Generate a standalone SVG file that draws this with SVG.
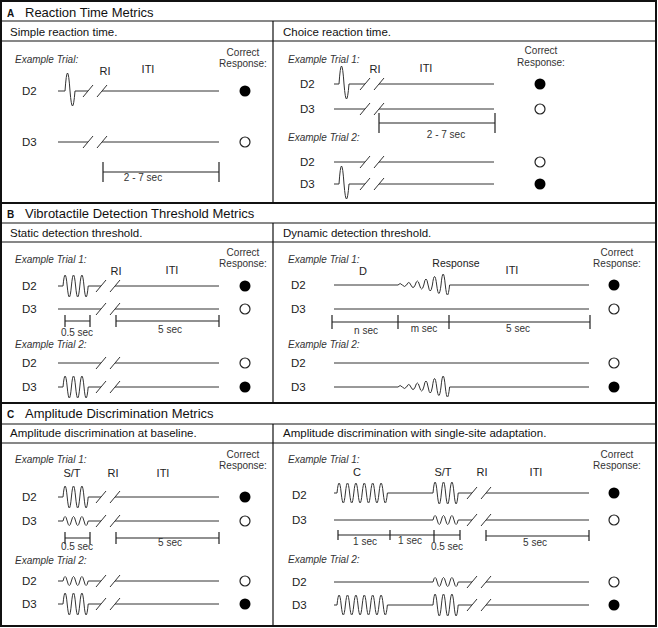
<svg xmlns="http://www.w3.org/2000/svg" xmlns:xlink="http://www.w3.org/1999/xlink" width="658" height="628" viewBox="0 0 658 628">
<style>
text{font-family:"Liberation Sans",Arial,sans-serif;fill:#111}
.h{font-size:13px}
.hl{font-size:10px;font-weight:bold}
.s{font-size:11.5px}
.ex{font-size:10px;font-style:italic;fill:#333}
.cr{font-size:10px;text-anchor:middle;fill:#333}
.d{font-size:11.5px;fill:#222}
.lb{font-size:11px;text-anchor:middle;fill:#222}
.sc{font-size:10px;text-anchor:middle;fill:#333}
.fr{fill:none;stroke:#111;stroke-width:2}
.fl{fill:none;stroke:#111;stroke-width:1.2}
.tr{fill:none;stroke:#333;stroke-width:1}
.bar{fill:none;stroke:#222;stroke-width:1.2}
.on{fill:#000}
.off{fill:#fff;stroke:#222;stroke-width:1.2}
</style>
<defs>
<path id="brk" class="tr" d="M-5,6 L5,-6 M9,6 L19,-6"/>
<path id="spk" class="tr" d="M0,0 q2.5,-36 5,0 q2.5,30 5,0"/>
<path id="vibL" class="tr" d="M0,0 q2.1,-22 4.2,0 t4.2,0 t4.2,0 t4.2,0 t4.2,0 t4.2,0"/>
<path id="vibS" class="tr" d="M0,0 q2.1,-9 4.2,0 t4.2,0 t4.2,0 t4.2,0 t4.2,0 t4.2,0"/>
<path id="vibC" class="tr" d="M0,0 q2.1,-20 4.2,0 t4.2,0 t4.2,0 t4.2,0 t4.2,0 t4.2,0 t4.2,0 t4.2,0 t4.2,0 t4.2,0 t4.2,0 t4.2,0"/>
<path id="dyn" class="tr" d="M0,0 q2.15,-3 4.3,0 q2.15,3 4.3,0 q2.15,-5 4.3,0 q2.15,5 4.3,0 q2.15,-8 4.3,0 q2.15,8 4.3,0 q2.15,-12 4.3,0 q2.15,12 4.3,0 q2.15,-17 4.3,0 q2.15,17 4.3,0 q2.15,-22 4.3,0 q2.15,20 4.3,0"/>
</defs>

<g id="frame">
<rect class="fr" x="1" y="1" width="655" height="625"/>
<path class="fr" d="M1,203 H656 M1,403 H656"/>
<path class="fl" d="M1,21 H656 M1,41 H656 M1,223 H656 M1,242 H656 M1,424 H656 M1,443 H656 M273,21 V203 M273,223 V403 M273,424 V626"/>
</g>

<g id="headers">
<text class="hl" x="7" y="17">A</text><text class="h" x="25" y="17">Reaction Time Metrics</text>
<text class="hl" x="7" y="218">B</text><text class="h" x="25" y="218">Vibrotactile Detection Threshold Metrics</text>
<text class="hl" x="7" y="418">C</text><text class="h" x="25" y="418">Amplitude Discrimination Metrics</text>
<text class="s" x="10" y="36">Simple reaction time.</text>
<text class="s" x="283" y="36">Choice reaction time.</text>
<text class="s" x="10" y="237">Static detection threshold.</text>
<text class="s" x="283" y="237">Dynamic detection threshold.</text>
<text class="s" x="10" y="437">Amplitude discrimination at baseline.</text>
<text class="s" x="283" y="437">Amplitude discrimination with single-site adaptation.</text>
</g>

<g id="panel-a-simple">
<text class="ex" x="15" y="63">Example Trial:</text>
<text class="cr" x="243" y="56">Correct</text><text class="cr" x="243" y="67">Response:</text>
<text class="lb" x="105" y="75">RI</text><text class="lb" x="148" y="73">ITI</text>
<text class="d" x="22" y="95">D2</text>
<path class="tr" d="M58,91 H65 M75,91 H88 M102,91 H219"/>
<use href="#spk" x="65" y="91"/><use href="#brk" x="88" y="91"/>
<circle class="on" cx="245" cy="91" r="5.5"/>
<text class="d" x="22" y="146">D3</text>
<path class="tr" d="M58,142 H88 M102,142 H219"/>
<use href="#brk" x="88" y="142"/>
<circle class="off" cx="245" cy="142" r="5"/>
<path class="bar" d="M103,172 H219 M103,162 V182 M219,162 V182"/>
<text class="sc" x="143" y="181">2 - 7 sec</text>
</g>

<g id="panel-a-choice">
<text class="ex" x="288" y="63">Example Trial 1:</text>
<text class="cr" x="541" y="54">Correct</text><text class="cr" x="541" y="66">Response:</text>
<text class="lb" x="375" y="73">RI</text><text class="lb" x="426" y="72">ITI</text>
<text class="d" x="300" y="88">D2</text>
<path class="tr" d="M334,84 H339 M349,84 H365 M379,84 H494"/>
<use href="#spk" x="339" y="84"/><use href="#brk" x="365" y="84"/>
<circle class="on" cx="540" cy="84" r="5.5"/>
<text class="d" x="300" y="113">D3</text>
<path class="tr" d="M334,109 H365 M379,109 H494"/>
<use href="#brk" x="365" y="109"/>
<circle class="off" cx="540" cy="109" r="5"/>
<path class="bar" d="M379,123 H495 M379,113 V133 M495,113 V133"/>
<text class="sc" x="446" y="138">2 - 7 sec</text>
<text class="ex" x="288" y="141">Example Trial 2:</text>
<text class="d" x="300" y="166">D2</text>
<path class="tr" d="M334,162 H365 M379,162 H494"/>
<use href="#brk" x="365" y="162"/>
<circle class="off" cx="540" cy="162" r="5"/>
<text class="d" x="300" y="188">D3</text>
<path class="tr" d="M334,184 H339 M349,184 H365 M379,184 H494"/>
<use href="#spk" x="339" y="184"/><use href="#brk" x="365" y="184"/>
<circle class="on" cx="540" cy="184" r="5.5"/>
</g>

<g id="panel-b-static">
<text class="ex" x="15" y="263">Example Trial 1:</text>
<text class="cr" x="243" y="256">Correct</text><text class="cr" x="243" y="267">Response:</text>
<text class="lb" x="116" y="275">RI</text><text class="lb" x="172" y="274">ITI</text>
<text class="d" x="22" y="290">D2</text>
<path class="tr" d="M58,286 H63 M88.2,286 H101 M115,286 H219"/>
<use href="#vibL" x="63" y="286"/><use href="#brk" x="101" y="286"/>
<circle class="on" cx="245" cy="286" r="5.5"/>
<text class="d" x="22" y="313">D3</text>
<path class="tr" d="M58,309 H101 M115,309 H219"/>
<use href="#brk" x="101" y="309"/>
<circle class="off" cx="245" cy="309" r="5"/>
<path class="bar" d="M65,321 H90 M65,315 V327 M90,315 V327 M116,321 H219 M116,315 V327 M219,315 V327"/>
<text class="sc" x="77" y="336">0.5 sec</text>
<text class="sc" x="170" y="333">5 sec</text>
<text class="ex" x="15" y="348">Example Trial 2:</text>
<text class="d" x="22" y="367">D2</text>
<path class="tr" d="M58,363 H101 M115,363 H219"/>
<use href="#brk" x="101" y="363"/>
<circle class="off" cx="245" cy="363" r="5"/>
<text class="d" x="22" y="391">D3</text>
<path class="tr" d="M58,387 H63 M88.2,387 H101 M115,387 H219"/>
<use href="#vibL" x="63" y="387"/><use href="#brk" x="101" y="387"/>
<circle class="on" cx="245" cy="387" r="5.5"/>
</g>

<g id="panel-b-dynamic">
<text class="ex" x="288" y="263">Example Trial 1:</text>
<text class="cr" x="617" y="256">Correct</text><text class="cr" x="617" y="267">Response:</text>
<text class="lb" x="363" y="275">D</text>
<text class="lb" x="456" y="267" style="font-size:10.5px">Response</text>
<text class="lb" x="512" y="274">ITI</text>
<text class="d" x="291" y="289">D2</text>
<path class="tr" d="M334,285 H398 M449.6,285 H589"/>
<use href="#dyn" x="398" y="285"/>
<circle class="on" cx="614" cy="285" r="5.5"/>
<text class="d" x="291" y="313">D3</text>
<path class="tr" d="M334,309 H589"/>
<circle class="off" cx="614" cy="309" r="5"/>
<path class="bar" d="M332,322 H590 M332,315 V329 M398,315 V329 M449,315 V329 M590,315 V329"/>
<text class="sc" x="366" y="334">n sec</text>
<text class="sc" x="424" y="332">m sec</text>
<text class="sc" x="518" y="332">5 sec</text>
<text class="ex" x="288" y="348">Example Trial 2:</text>
<text class="d" x="291" y="367">D2</text>
<path class="tr" d="M334,363 H589"/>
<circle class="off" cx="614" cy="363" r="5"/>
<text class="d" x="291" y="391">D3</text>
<path class="tr" d="M334,387 H398 M449.6,387 H589"/>
<use href="#dyn" x="398" y="387"/>
<circle class="on" cx="614" cy="387" r="5.5"/>
</g>

<g id="panel-c-baseline">
<text class="ex" x="15" y="463">Example Trial 1:</text>
<text class="cr" x="243" y="458">Correct</text><text class="cr" x="243" y="469">Response:</text>
<text class="lb" x="72" y="477">S/T</text><text class="lb" x="113" y="477">RI</text><text class="lb" x="163" y="477">ITI</text>
<text class="d" x="22" y="501">D2</text>
<path class="tr" d="M58,497 H63 M88.2,497 H101 M115,497 H219"/>
<use href="#vibL" x="63" y="497"/><use href="#brk" x="101" y="497"/>
<circle class="on" cx="245" cy="497" r="5.5"/>
<text class="d" x="22" y="525">D3</text>
<path class="tr" d="M58,521 H63 M88.2,521 H101 M115,521 H219"/>
<use href="#vibS" x="63" y="521"/><use href="#brk" x="101" y="521"/>
<circle class="off" cx="245" cy="521" r="5"/>
<path class="bar" d="M65,538 H90 M65,532 V544 M90,532 V544 M116,538 H219 M116,532 V544 M219,532 V544"/>
<text class="sc" x="77" y="550">0.5 sec</text>
<text class="sc" x="170" y="546">5 sec</text>
<text class="ex" x="15" y="564">Example Trial 2:</text>
<text class="d" x="22" y="585">D2</text>
<path class="tr" d="M58,581 H63 M88.2,581 H101 M115,581 H219"/>
<use href="#vibS" x="63" y="581"/><use href="#brk" x="101" y="581"/>
<circle class="off" cx="245" cy="581" r="5"/>
<text class="d" x="22" y="608">D3</text>
<path class="tr" d="M58,604 H63 M88.2,604 H101 M115,604 H219"/>
<use href="#vibL" x="63" y="604"/><use href="#brk" x="101" y="604"/>
<circle class="on" cx="245" cy="604" r="5.5"/>
</g>

<g id="panel-c-adaptation">
<text class="ex" x="288" y="463">Example Trial 1:</text>
<text class="cr" x="617" y="458">Correct</text><text class="cr" x="617" y="469">Response:</text>
<text class="lb" x="357" y="476">C</text><text class="lb" x="443" y="476">S/T</text><text class="lb" x="482" y="476">RI</text><text class="lb" x="536" y="476">ITI</text>
<text class="d" x="292" y="499">D2</text>
<path class="tr" d="M334,493 H337 M387.4,493 H433 M458.2,493 H472 M486,493 H589"/>
<use href="#vibC" x="337" y="493"/><use href="#vibL" x="433" y="493"/><use href="#brk" x="472" y="493"/>
<circle class="on" cx="614" cy="493" r="5.5"/>
<text class="d" x="292" y="524">D3</text>
<path class="tr" d="M334,520 H433 M458.2,520 H472 M486,520 H589"/>
<use href="#vibS" x="433" y="520"/><use href="#brk" x="472" y="520"/>
<circle class="off" cx="614" cy="520" r="5"/>
<path class="bar" d="M338,535 H460 M338,530 V540 M390,530 V540 M434,530 V542 M460,530 V540 M486,536 H589 M486,530 V541 M589,530 V541"/>
<text class="sc" x="365" y="545">1 sec</text>
<text class="sc" x="410" y="544">1 sec</text>
<text class="sc" x="447" y="550">0.5 sec</text>
<text class="sc" x="535" y="546">5 sec</text>
<text class="ex" x="288" y="563">Example Trial 2:</text>
<text class="d" x="292" y="586">D2</text>
<path class="tr" d="M334,582 H433 M458.2,582 H472 M486,582 H589"/>
<use href="#vibS" x="433" y="582"/><use href="#brk" x="472" y="582"/>
<circle class="off" cx="614" cy="582" r="5"/>
<text class="d" x="292" y="609">D3</text>
<path class="tr" d="M334,605 H337 M387.4,605 H433 M458.2,605 H472 M486,605 H589"/>
<use href="#vibC" x="337" y="605"/><use href="#vibL" x="433" y="605"/><use href="#brk" x="472" y="605"/>
<circle class="on" cx="614" cy="605" r="5.5"/>
</g>
</svg>
